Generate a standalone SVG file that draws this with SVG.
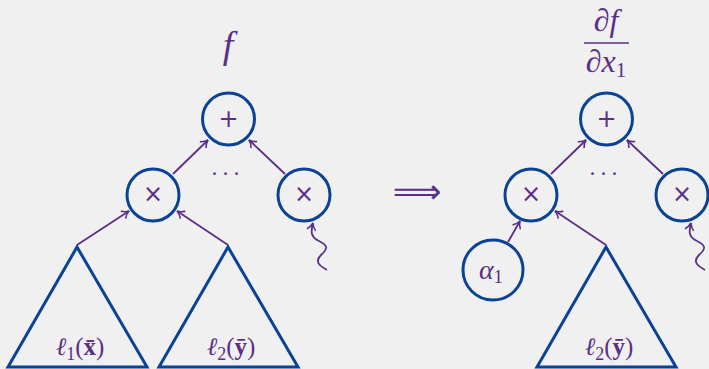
<svg xmlns="http://www.w3.org/2000/svg" width="709" height="369" viewBox="0 0 709 369">
<defs>
<style>
.node{fill:none;stroke:#0a4396;stroke-width:3}
.edge{fill:none;stroke:#5b2f87;stroke-width:1.8}
</style>
<marker id="ah" viewBox="0 0 10 10" refX="9" refY="5" markerWidth="10" markerHeight="10" markerUnits="userSpaceOnUse" orient="auto">
<path d="M2,0.5 Q5,4 9,5 Q5,6 2,9.5" fill="none" stroke="#5b2f87" stroke-width="1.6"/>
</marker>
</defs>
<rect width="709" height="369" fill="#f0f0f0"/>

<g id="connectors">
<line class="edge" x1="173" y1="174" x2="208" y2="140" marker-end="url(#ah)"/>
<line class="edge" x1="285" y1="174" x2="249" y2="140" marker-end="url(#ah)"/>
<line class="edge" x1="77" y1="245" x2="129" y2="211" marker-end="url(#ah)"/>
<line class="edge" x1="228" y1="245" x2="177" y2="211" marker-end="url(#ah)"/>
<path class="edge" d="M327,270 C320,266 314,262 321,255 C329,248 327,245 319,241 C310,237 311,231 313,223" marker-end="url(#ah)"/>
<line class="edge" x1="551" y1="174" x2="586" y2="140" marker-end="url(#ah)"/>
<line class="edge" x1="663" y1="174" x2="627" y2="140" marker-end="url(#ah)"/>
<line class="edge" x1="508" y1="242" x2="520" y2="221" marker-end="url(#ah)"/>
<line class="edge" x1="606" y1="245" x2="555" y2="211" marker-end="url(#ah)"/>
<path class="edge" d="M705,270 C698,266 692,262 699,255 C707,248 705,245 697,241 C688,237 689,231 691,223" marker-end="url(#ah)"/>
</g>

<g fill="#5b2f87" font-family="Liberation Serif, DejaVu Serif, serif" text-anchor="middle">
<g id="f-label"><text x="228" y="58" font-size="38" font-style="italic">f</text></g>
<g id="plus1"><circle class="node" cx="228.5" cy="119" r="26"/><text x="228.5" y="127" font-size="24" font-family="DejaVu Sans, sans-serif">+</text></g>
<g id="times1"><circle class="node" cx="153" cy="195" r="26"/><text x="153" y="202" font-size="24" font-family="DejaVu Sans, sans-serif">×</text></g>
<g id="times2"><circle class="node" cx="304" cy="195" r="26"/><text x="304" y="202" font-size="24" font-family="DejaVu Sans, sans-serif">×</text></g>
<g id="dots1"><text x="227" y="181" font-size="24" letter-spacing="3">···</text></g>
<g id="tri1"><path class="node" d="M77,247 L8,367 L147,367 Z"/><text x="80" y="355" font-size="25"><tspan font-style="italic">ℓ</tspan><tspan font-size="18" dy="5">1</tspan><tspan dy="-5">(</tspan><tspan font-weight="bold">x̄</tspan>)</text></g>
<g id="tri2"><path class="node" d="M228,247 L159,367 L298,367 Z"/><text x="231" y="355" font-size="25"><tspan font-style="italic">ℓ</tspan><tspan font-size="18" dy="5">2</tspan><tspan dy="-5">(</tspan><tspan font-weight="bold">ȳ</tspan>)</text></g>

<g id="implies"><text x="417" y="203" font-size="34" font-family="DejaVu Sans, sans-serif">⟹</text></g>

<g id="deriv-label">
<text x="606" y="31" font-size="32"><tspan>∂</tspan><tspan font-style="italic">f</tspan></text>
<line x1="584" y1="43" x2="629" y2="43" stroke="#5b2f87" stroke-width="1.5"/>
<text x="606" y="72" font-size="32"><tspan>∂</tspan><tspan font-style="italic">x</tspan><tspan font-size="21" dy="5">1</tspan></text>
</g>
<g id="plus2"><circle class="node" cx="606.5" cy="119" r="26"/><text x="606.5" y="127" font-size="24" font-family="DejaVu Sans, sans-serif">+</text></g>
<g id="times3"><circle class="node" cx="531" cy="195" r="26"/><text x="531" y="202" font-size="24" font-family="DejaVu Sans, sans-serif">×</text></g>
<g id="times4"><circle class="node" cx="682" cy="195" r="26"/><text x="682" y="202" font-size="24" font-family="DejaVu Sans, sans-serif">×</text></g>
<g id="dots2"><text x="605" y="181" font-size="24" letter-spacing="3">···</text></g>
<g id="alpha1"><circle class="node" cx="493" cy="270" r="30"/><text x="491" y="279" font-size="28"><tspan font-style="italic">α</tspan><tspan font-size="19" dy="4">1</tspan></text></g>
<g id="tri3"><path class="node" d="M606,247 L537,367 L676,367 Z"/><text x="609" y="355" font-size="25"><tspan font-style="italic">ℓ</tspan><tspan font-size="18" dy="5">2</tspan><tspan dy="-5">(</tspan><tspan font-weight="bold">ȳ</tspan>)</text></g>
</g>
</svg>
